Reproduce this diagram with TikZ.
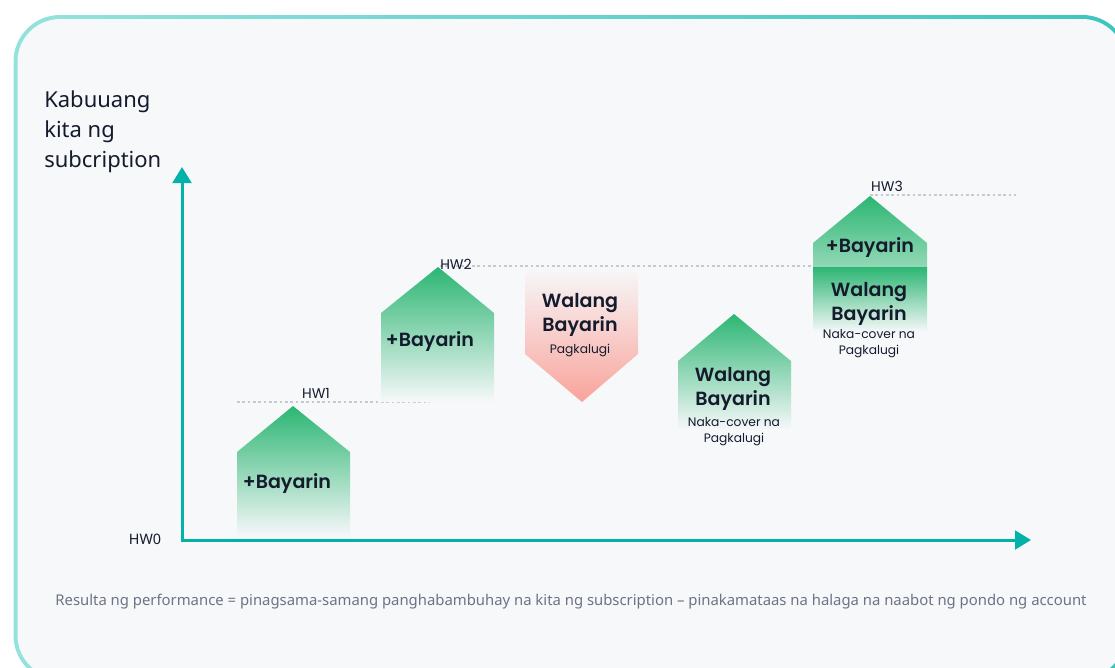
\documentclass[tikz,border=0pt]{standalone}
\usepackage{fontspec}
\setmainfont{Noto Sans}
\newfontfamily\pop{Poppins}
\newfontfamily\popsb{Poppins SemiBold}
\usetikzlibrary{arrows.meta}
\definecolor{bg}{HTML}{F7F8FA}
\definecolor{axisc}{HTML}{00B2A9}
\definecolor{gtop}{HTML}{2CB673}
\definecolor{gmid}{HTML}{93D8B6}
\definecolor{rbot}{HTML}{F9A39B}
\definecolor{ink}{HTML}{141B2D}
\definecolor{foot}{HTML}{6B7385}
\definecolor{dotc}{HTML}{C5C9D0}
\definecolor{frameL}{HTML}{95E2DD}
\definecolor{frameR}{HTML}{3CC5BD}
\tikzset{
  axisline/.style={draw=axisc, line width=2.25pt, -{Triangle[width=14pt,length=12pt]}},
  hwline/.style={draw=dotc, line width=0.8pt, dash pattern=on 2pt off 2pt},
  hwlab/.style={text=ink, font=\pop\fontsize{10.5}{12}\selectfont, inner sep=0pt},
  biglab/.style={text=ink, font=\popsb\fontsize{14.3}{18}\selectfont, align=center, inner sep=0pt},
  smalllab/.style={text=ink, font=\pop\fontsize{9.2}{12}\selectfont, align=center, inner sep=0pt},
}
\begin{document}
\begin{tikzpicture}[x=0.75pt,y=-0.75pt]
\useasboundingbox (0,0) rectangle (1115,668);
\fill[white] (0,0) rectangle (1115,668);
\begin{scope}
\clip (0,0) rectangle (1115,668);
\shade[left color=frameL, right color=frameR, rounded corners=35pt] (13.5,15) rectangle (1129,682);
\fill[bg, rounded corners=32pt] (17.5,19) rectangle (1125,678);
\end{scope}

% dotted high-water lines
\coordinate (h1a) at (237,402); \coordinate (h1b) at (430,402);
\coordinate (h2a) at (440,266); \coordinate (h2b) at (830,266);
\coordinate (h3a) at (870,195); \coordinate (h3b) at (1016,195);
\draw[hwline] (h1a) -- (h1b);
\draw[hwline] (h2a) -- (h2b);
\draw[hwline] (h3a) -- (h3b);

% shapes
\shade[top color=gtop, bottom color=bg] (237,537) -- (237,452) -- (293,406) -- (350,452) -- (350,537) -- cycle;
\shade[top color=gtop, bottom color=bg] (381,402) -- (381,313) -- (438,267) -- (494,313) -- (494,402) -- cycle;
\shade[top color=bg, bottom color=rbot] (525,267) -- (525,354) -- (582,402) -- (638,354) -- (638,267) -- cycle;
\shade[top color=gtop, bottom color=bg] (678,430) -- (678,361) -- (734,314) -- (791,361) -- (791,430) -- cycle;
\shade[top color=gtop, bottom color=gmid] (813,267) -- (813,243) -- (870,196) -- (927,243) -- (927,267) -- cycle;
\shade[top color=gtop, bottom color=bg] (813,267) rectangle (927,332);

% axes
\coordinate (origin) at (182,540);
\coordinate (ytip) at (182,167);
\coordinate (xtip) at (1031,540);
\draw[axisline] (origin) -- (ytip);
\draw[axisline] ([xshift=-1.1pt]origin) -- (xtip);

% labels
\node[text=ink, font=\fontsize{16.5}{22.5}\selectfont, align=left, anchor=north west, inner sep=0pt] (ylab) at (44,91) {Kabuuang\\kita ng\\subcription};
\node[text=ink, font=\fontsize{10.8}{12}\selectfont, inner sep=0pt] (hw0) at (145,539) {HW0};
\node[hwlab] (hw1) at (316,393) {HW1};
\node[hwlab] (hw2) at (456,264) {HW2};
\node[hwlab] (hw3) at (887,186) {HW3};

\node[biglab] (b1) at (287,484) {+Bayarin};
\node[biglab] (b2) at (430,342) {+Bayarin};
\node[biglab] (w3) at (580,315) {Walang\\Bayarin};
\node[smalllab] (p3) at (580,350) {Pagkalugi};
\node[biglab] (w4) at (733,389) {Walang\\Bayarin};
\node[smalllab] (p4) at (734,432) {Naka-cover na\\Pagkalugi};
\node[biglab] (b5) at (870,248) {+Bayarin};
\node[biglab] (w5) at (869,304) {Walang\\Bayarin};
\node[smalllab] (p5) at (869,344) {Naka-cover na\\Pagkalugi};

\node[text=foot, font=\fontsize{11.15}{14}\selectfont, inner sep=0pt] (foot) at (571,602) {Resulta ng performance = pinagsama-samang panghabambuhay na kita ng subscription – pinakamataas na halaga na naabot ng pondo ng account};
\end{tikzpicture}
\end{document}
